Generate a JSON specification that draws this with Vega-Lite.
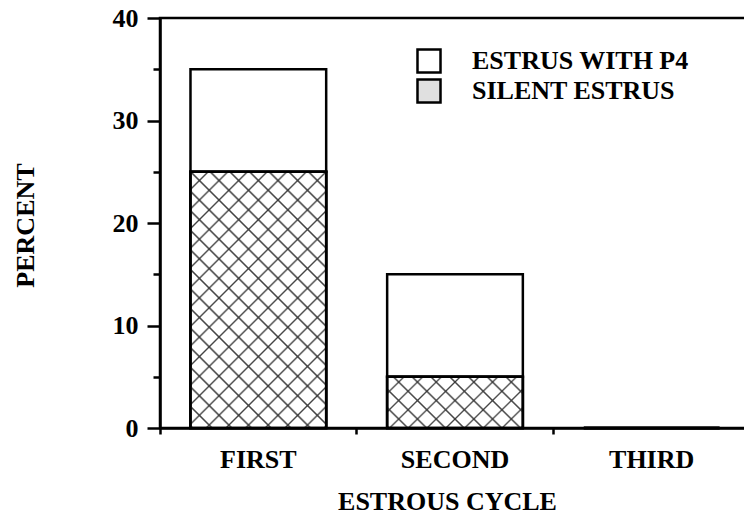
{
  "$schema": "https://vega.github.io/schema/vega-lite/v6.json",
  "width": 590,
  "height": 410,
  "autosize": {"type": "none"},
  "padding": {"left": 160, "top": 18, "right": -6, "bottom": 88},
  "config": {"view": {"stroke": "black", "strokeWidth": 2.5}, "font": "Liberation Serif"},
  "data": {"values": [
    {"cycle": "FIRST", "type": "SILENT ESTRUS", "percent": 25},
    {"cycle": "FIRST", "type": "ESTRUS WITH P4", "percent": 10},
    {"cycle": "SECOND", "type": "SILENT ESTRUS", "percent": 5},
    {"cycle": "SECOND", "type": "ESTRUS WITH P4", "percent": 10},
    {"cycle": "THIRD", "type": "SILENT ESTRUS", "percent": 0},
    {"cycle": "THIRD", "type": "ESTRUS WITH P4", "percent": 0}
  ]},
  "encoding": {
    "x": {
      "field": "cycle", "type": "nominal", "sort": ["FIRST", "SECOND", "THIRD"],
      "scale": {"paddingInner": 0, "paddingOuter": 0},
      "axis": {
        "bandPosition": 0, "labelAngle": 0, "tickSize": 6, "tickWidth": 2.5, "tickColor": "black",
        "domainWidth": 2.5, "domainColor": "black",
        "labelFont": "Liberation Serif", "labelFontSize": 26, "labelFontWeight": "bold", "labelColor": "black", "labelPadding": 12,
        "title": "ESTROUS CYCLE", "titleFont": "Liberation Serif", "titleFontSize": 26, "titleFontWeight": "bold", "titleColor": "black",
        "titleX": 287, "titleY": 73, "titleAlign": "center", "titleBaseline": "middle"
      }
    },
    "y": {
      "field": "percent", "type": "quantitative", "stack": "zero",
      "scale": {"domain": [0, 40], "nice": false},
      "axis": {
        "values": [0, 5, 10, 15, 20, 25, 30, 35, 40],
        "labelExpr": "datum.value % 10 === 0 ? datum.label : ''",
        "tickSize": {"condition": {"test": "datum.value % 10 === 0", "value": 13}, "value": 7},
        "tickWidth": 2.5, "tickColor": "black", "domainWidth": 2.5, "domainColor": "black", "grid": false,
        "labelFont": "Liberation Serif", "labelFontSize": 26, "labelFontWeight": "bold", "labelColor": "black", "labelPadding": 9,
        "title": "PERCENT", "titleFont": "Liberation Serif", "titleFontSize": 26, "titleFontWeight": "bold", "titleColor": "black",
        "titleAngle": -90, "titleX": -135, "titleY": 207, "titleAlign": "center", "titleBaseline": "middle"
      }
    },
    "order": {"field": "type", "sort": "descending"}
  },
  "layer": [
    {
      "mark": {"type": "bar", "strokeWidth": 2.5, "width": {"band": 0.69}},
      "encoding": {
        "fill": {
          "field": "type", "type": "nominal",
          "scale": {"domain": ["ESTRUS WITH P4", "SILENT ESTRUS"], "range": ["white", "#e0e0e0"]},
          "legend": {
            "orient": "none", "legendX": 256, "legendY": 30, "title": null,
            "symbolType": "square", "symbolSize": 530, "symbolStrokeWidth": 2.5,
            "labelFont": "Liberation Serif", "labelFontSize": 26, "labelFontWeight": "bold", "labelColor": "black",
            "labelOffset": 30, "rowPadding": -7, "labelLimit": 400
          }
        },
        "stroke": {
          "field": "type", "type": "nominal",
          "scale": {"domain": ["ESTRUS WITH P4", "SILENT ESTRUS"], "range": ["black", "black"]},
          "legend": {
            "orient": "none", "legendX": 256, "legendY": 30, "title": null,
            "symbolType": "square", "symbolSize": 530, "symbolStrokeWidth": 2.5,
            "labelFont": "Liberation Serif", "labelFontSize": 26, "labelFontWeight": "bold", "labelColor": "black",
            "labelOffset": 30, "rowPadding": -7, "labelLimit": 400
          }
        }
      }
    },
    {
      "transform": [{"filter": "datum.type === 'SILENT ESTRUS'"}],
      "mark": {"type": "bar", "stroke": "black", "strokeWidth": 2.5, "width": {"band": 0.69}},
      "encoding": {
        "fill": {
          "condition": {"test": "datum.cycle === 'FIRST'", "value": {"gradient": "linear", "x1": 0, "y1": 0, "x2": 0.63, "y2": 1.195, "stops": [
            {"offset": 0, "color": "white"},
            {"offset": 0.04, "color": "white"}, {"offset": 0.045, "color": "#444"}, {"offset": 0.05, "color": "white"},
            {"offset": 0.09, "color": "white"}, {"offset": 0.095, "color": "#444"}, {"offset": 0.1, "color": "white"},
            {"offset": 0.14, "color": "white"}, {"offset": 0.145, "color": "#444"}, {"offset": 0.15, "color": "white"},
            {"offset": 0.19, "color": "white"}, {"offset": 0.195, "color": "#444"}, {"offset": 0.2, "color": "white"},
            {"offset": 0.24, "color": "white"}, {"offset": 0.245, "color": "#444"}, {"offset": 0.25, "color": "white"},
            {"offset": 0.29, "color": "white"}, {"offset": 0.295, "color": "#444"}, {"offset": 0.3, "color": "white"},
            {"offset": 0.34, "color": "white"}, {"offset": 0.345, "color": "#444"}, {"offset": 0.35, "color": "white"},
            {"offset": 0.39, "color": "white"}, {"offset": 0.395, "color": "#444"}, {"offset": 0.4, "color": "white"},
            {"offset": 0.44, "color": "white"}, {"offset": 0.445, "color": "#444"}, {"offset": 0.45, "color": "white"},
            {"offset": 0.49, "color": "white"}, {"offset": 0.495, "color": "#444"}, {"offset": 0.5, "color": "white"},
            {"offset": 0.54, "color": "white"}, {"offset": 0.545, "color": "#444"}, {"offset": 0.55, "color": "white"},
            {"offset": 0.59, "color": "white"}, {"offset": 0.595, "color": "#444"}, {"offset": 0.6, "color": "white"},
            {"offset": 0.64, "color": "white"}, {"offset": 0.645, "color": "#444"}, {"offset": 0.65, "color": "white"},
            {"offset": 0.69, "color": "white"}, {"offset": 0.695, "color": "#444"}, {"offset": 0.7, "color": "white"},
            {"offset": 0.74, "color": "white"}, {"offset": 0.745, "color": "#444"}, {"offset": 0.75, "color": "white"},
            {"offset": 0.79, "color": "white"}, {"offset": 0.795, "color": "#444"}, {"offset": 0.8, "color": "white"},
            {"offset": 0.84, "color": "white"}, {"offset": 0.845, "color": "#444"}, {"offset": 0.85, "color": "white"},
            {"offset": 0.89, "color": "white"}, {"offset": 0.895, "color": "#444"}, {"offset": 0.9, "color": "white"},
            {"offset": 0.94, "color": "white"}, {"offset": 0.945, "color": "#444"}, {"offset": 0.95, "color": "white"},
            {"offset": 0.99, "color": "white"}, {"offset": 0.995, "color": "#444"}, {"offset": 1, "color": "white"}]}},
          "value": {"gradient": "linear", "x1": 0, "y1": 0, "x2": 1.206, "y2": 0.4625, "stops": [
            {"offset": 0, "color": "white"},
            {"offset": 0.08, "color": "white"}, {"offset": 0.09, "color": "#444"}, {"offset": 0.1, "color": "white"},
            {"offset": 0.18, "color": "white"}, {"offset": 0.19, "color": "#444"}, {"offset": 0.2, "color": "white"},
            {"offset": 0.28, "color": "white"}, {"offset": 0.29, "color": "#444"}, {"offset": 0.3, "color": "white"},
            {"offset": 0.38, "color": "white"}, {"offset": 0.39, "color": "#444"}, {"offset": 0.4, "color": "white"},
            {"offset": 0.48, "color": "white"}, {"offset": 0.49, "color": "#444"}, {"offset": 0.5, "color": "white"},
            {"offset": 0.58, "color": "white"}, {"offset": 0.59, "color": "#444"}, {"offset": 0.6, "color": "white"},
            {"offset": 0.68, "color": "white"}, {"offset": 0.69, "color": "#444"}, {"offset": 0.7, "color": "white"},
            {"offset": 0.78, "color": "white"}, {"offset": 0.79, "color": "#444"}, {"offset": 0.8, "color": "white"},
            {"offset": 0.88, "color": "white"}, {"offset": 0.89, "color": "#444"}, {"offset": 0.9, "color": "white"},
            {"offset": 0.98, "color": "white"}, {"offset": 0.99, "color": "#444"}, {"offset": 1, "color": "white"}]}
        }
      }
    },
    {
      "transform": [{"filter": "datum.type === 'SILENT ESTRUS'"}],
      "mark": {"type": "bar", "stroke": "black", "strokeWidth": 2.5, "width": {"band": 0.69}},
      "encoding": {
        "fill": {
          "condition": {"test": "datum.cycle === 'FIRST'", "value": {"gradient": "linear", "x1": 1, "y1": 0, "x2": 0.37, "y2": 1.195, "stops": [
            {"offset": 0, "color": "rgba(0,0,0,0)"},
            {"offset": 0.04, "color": "rgba(0,0,0,0)"}, {"offset": 0.045, "color": "#444"}, {"offset": 0.05, "color": "rgba(0,0,0,0)"},
            {"offset": 0.09, "color": "rgba(0,0,0,0)"}, {"offset": 0.095, "color": "#444"}, {"offset": 0.1, "color": "rgba(0,0,0,0)"},
            {"offset": 0.14, "color": "rgba(0,0,0,0)"}, {"offset": 0.145, "color": "#444"}, {"offset": 0.15, "color": "rgba(0,0,0,0)"},
            {"offset": 0.19, "color": "rgba(0,0,0,0)"}, {"offset": 0.195, "color": "#444"}, {"offset": 0.2, "color": "rgba(0,0,0,0)"},
            {"offset": 0.24, "color": "rgba(0,0,0,0)"}, {"offset": 0.245, "color": "#444"}, {"offset": 0.25, "color": "rgba(0,0,0,0)"},
            {"offset": 0.29, "color": "rgba(0,0,0,0)"}, {"offset": 0.295, "color": "#444"}, {"offset": 0.3, "color": "rgba(0,0,0,0)"},
            {"offset": 0.34, "color": "rgba(0,0,0,0)"}, {"offset": 0.345, "color": "#444"}, {"offset": 0.35, "color": "rgba(0,0,0,0)"},
            {"offset": 0.39, "color": "rgba(0,0,0,0)"}, {"offset": 0.395, "color": "#444"}, {"offset": 0.4, "color": "rgba(0,0,0,0)"},
            {"offset": 0.44, "color": "rgba(0,0,0,0)"}, {"offset": 0.445, "color": "#444"}, {"offset": 0.45, "color": "rgba(0,0,0,0)"},
            {"offset": 0.49, "color": "rgba(0,0,0,0)"}, {"offset": 0.495, "color": "#444"}, {"offset": 0.5, "color": "rgba(0,0,0,0)"},
            {"offset": 0.54, "color": "rgba(0,0,0,0)"}, {"offset": 0.545, "color": "#444"}, {"offset": 0.55, "color": "rgba(0,0,0,0)"},
            {"offset": 0.59, "color": "rgba(0,0,0,0)"}, {"offset": 0.595, "color": "#444"}, {"offset": 0.6, "color": "rgba(0,0,0,0)"},
            {"offset": 0.64, "color": "rgba(0,0,0,0)"}, {"offset": 0.645, "color": "#444"}, {"offset": 0.65, "color": "rgba(0,0,0,0)"},
            {"offset": 0.69, "color": "rgba(0,0,0,0)"}, {"offset": 0.695, "color": "#444"}, {"offset": 0.7, "color": "rgba(0,0,0,0)"},
            {"offset": 0.74, "color": "rgba(0,0,0,0)"}, {"offset": 0.745, "color": "#444"}, {"offset": 0.75, "color": "rgba(0,0,0,0)"},
            {"offset": 0.79, "color": "rgba(0,0,0,0)"}, {"offset": 0.795, "color": "#444"}, {"offset": 0.8, "color": "rgba(0,0,0,0)"},
            {"offset": 0.84, "color": "rgba(0,0,0,0)"}, {"offset": 0.845, "color": "#444"}, {"offset": 0.85, "color": "rgba(0,0,0,0)"},
            {"offset": 0.89, "color": "rgba(0,0,0,0)"}, {"offset": 0.895, "color": "#444"}, {"offset": 0.9, "color": "rgba(0,0,0,0)"},
            {"offset": 0.94, "color": "rgba(0,0,0,0)"}, {"offset": 0.945, "color": "#444"}, {"offset": 0.95, "color": "rgba(0,0,0,0)"},
            {"offset": 0.99, "color": "rgba(0,0,0,0)"}, {"offset": 0.995, "color": "#444"}, {"offset": 1, "color": "rgba(0,0,0,0)"}]}},
          "value": {"gradient": "linear", "x1": 1, "y1": 0, "x2": -0.206, "y2": 0.4625, "stops": [
            {"offset": 0, "color": "rgba(0,0,0,0)"},
            {"offset": 0.08, "color": "rgba(0,0,0,0)"}, {"offset": 0.09, "color": "#444"}, {"offset": 0.1, "color": "rgba(0,0,0,0)"},
            {"offset": 0.18, "color": "rgba(0,0,0,0)"}, {"offset": 0.19, "color": "#444"}, {"offset": 0.2, "color": "rgba(0,0,0,0)"},
            {"offset": 0.28, "color": "rgba(0,0,0,0)"}, {"offset": 0.29, "color": "#444"}, {"offset": 0.3, "color": "rgba(0,0,0,0)"},
            {"offset": 0.38, "color": "rgba(0,0,0,0)"}, {"offset": 0.39, "color": "#444"}, {"offset": 0.4, "color": "rgba(0,0,0,0)"},
            {"offset": 0.48, "color": "rgba(0,0,0,0)"}, {"offset": 0.49, "color": "#444"}, {"offset": 0.5, "color": "rgba(0,0,0,0)"},
            {"offset": 0.58, "color": "rgba(0,0,0,0)"}, {"offset": 0.59, "color": "#444"}, {"offset": 0.6, "color": "rgba(0,0,0,0)"},
            {"offset": 0.68, "color": "rgba(0,0,0,0)"}, {"offset": 0.69, "color": "#444"}, {"offset": 0.7, "color": "rgba(0,0,0,0)"},
            {"offset": 0.78, "color": "rgba(0,0,0,0)"}, {"offset": 0.79, "color": "#444"}, {"offset": 0.8, "color": "rgba(0,0,0,0)"},
            {"offset": 0.88, "color": "rgba(0,0,0,0)"}, {"offset": 0.89, "color": "#444"}, {"offset": 0.9, "color": "rgba(0,0,0,0)"},
            {"offset": 0.98, "color": "rgba(0,0,0,0)"}, {"offset": 0.99, "color": "#444"}, {"offset": 1, "color": "rgba(0,0,0,0)"}]}
        }
      }
    }
  ]
}
